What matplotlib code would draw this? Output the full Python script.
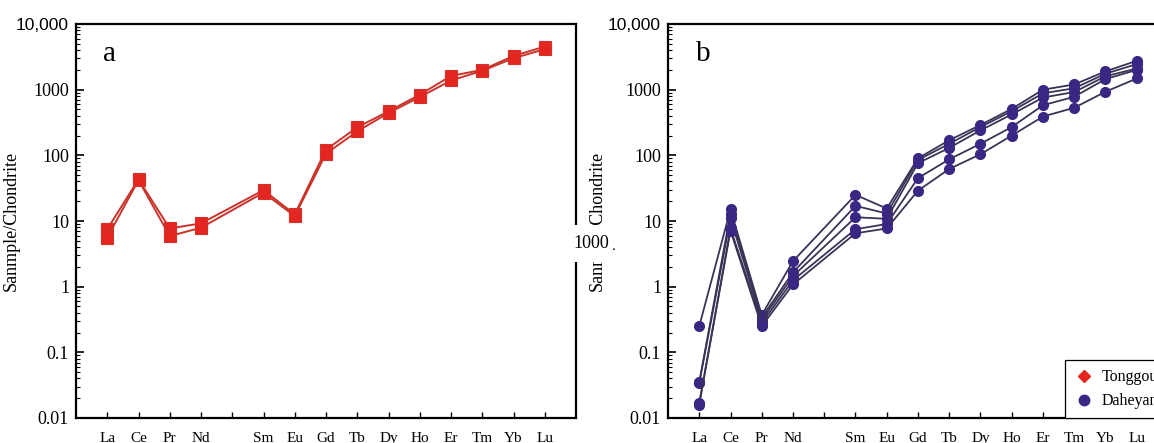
import numpy as np
import matplotlib
matplotlib.use('Agg')
import matplotlib.pyplot as plt
from matplotlib.ticker import FixedLocator, LogLocator, NullFormatter
from matplotlib.patches import Rectangle
from matplotlib.lines import Line2D

# REE order, Pm slot (position 5) is left empty
elements = ['La', 'Ce', 'Pr', 'Nd', 'Sm', 'Eu', 'Gd', 'Tb', 'Dy', 'Ho', 'Er', 'Tm', 'Yb', 'Lu']
elem_pos = [1, 2, 3, 4, 6, 7, 8, 9, 10, 11, 12, 13, 14, 15]
tick_pos = list(range(1, 16))
tick_names = ['La', 'Ce', 'Pr', 'Nd', '', 'Sm', 'Eu', 'Gd', 'Tb', 'Dy', 'Ho', 'Er', 'Tm', 'Yb', 'Lu']

# panel a: Tonggou
tonggou_1 = [7.5, 43, 7.7, 9.2, 29.5, 12.6, 122, 267, 468, 838, 1620, 2000, 3260, 4530]
tonggou_2 = [5.6, 42, 5.9, 7.9, 27, 11.9, 106, 232, 442, 771, 1380, 1940, 3010, 4130]

# panel b: Daheyan
daheyan_1 = [0.25, 15, 0.37, 2.45, 25, 15.5, 90, 170, 290, 510, 1000, 1200, 1900, 2750]
daheyan_2 = [0.035, 13, 0.34, 1.65, 17, 13, 85, 150, 270, 470, 880, 1050, 1750, 2450]
daheyan_3 = [0.034, 11, 0.31, 1.45, 11.4, 10.8, 76, 130, 240, 420, 760, 920, 1600, 2100]
daheyan_4 = [0.016, 7.7, 0.28, 1.25, 7.5, 9, 45, 87, 150, 270, 580, 780, 1450, 2000]
daheyan_5 = [0.017, 7.1, 0.25, 1.08, 6.5, 7.7, 29, 62, 104, 200, 390, 530, 930, 1480]

y_ticks = [0.01, 0.1, 1, 10, 100, 1000, 10000]
y_labels = ['0.01', '0.1', '1', '10', '100', '1000', '10,000']

W, H = 1154, 443
fig = plt.figure(figsize=(W / 100, H / 100), dpi=100)
serif = 'Liberation Serif'

red_m, red_l = '#e3261f', '#c9342b'
pur_m, pur_l = '#3a2784', '#3b3356'


def setup(ax, letter, lab_x):
    ax.set_yscale('log')
    ax.set_ylim(0.01, 10000)
    ax.set_xlim(0, 16)
    ax.yaxis.set_major_locator(FixedLocator(y_ticks))
    ax.set_yticklabels(y_labels)
    ax.yaxis.set_minor_locator(LogLocator(base=10, subs=np.arange(2, 10)))
    ax.yaxis.set_minor_formatter(NullFormatter())
    ax.set_xticks(tick_pos)
    ax.set_xticklabels(tick_names)
    ax.tick_params(axis='y', which='major', direction='in', length=6, width=1.2,
                   labelsize=13, pad=5)
    ax.tick_params(axis='y', which='minor', direction='in', length=3, width=0.8)
    ax.tick_params(axis='x', direction='in', length=4, width=1.0, labelsize=11, pad=10)
    for lab in ax.get_yticklabels() + ax.get_xticklabels():
        lab.set_fontfamily(serif)
    top = ax.get_yticklabels()[-1]
    top.set_fontfamily('Liberation Sans')
    top.set_fontsize(12.5)
    for s in ax.spines.values():
        s.set_linewidth(1.6)
    ax.set_ylabel('Sanmple/Chondrite', fontsize=13, family=serif)
    ax.yaxis.set_label_coords(lab_x, 0.5)
    ax.text(0.055, 0.925, letter, transform=ax.transAxes, fontsize=21,
            family=serif, ha='left', va='center')


# panel a
ax1 = fig.add_axes([76 / W, 25 / H, 500 / W, 394 / H])
for s in [tonggou_1, tonggou_2]:
    ax1.plot(elem_pos, s, color=red_l, lw=1.4, marker='s', ms=8,
             mfc=red_m, mec='#d8302a', mew=0.8, zorder=3)
setup(ax1, 'a', -0.112)

# panel b (runs off the right edge of the figure)
ax2 = fig.add_axes([668 / W, 25 / H, 500 / W, 394 / H])
for s in [daheyan_1, daheyan_2, daheyan_3, daheyan_4, daheyan_5]:
    ax2.plot(elem_pos, s, color=pur_l, lw=1.3, marker='o', ms=7,
             mfc=pur_m, mec=pur_m, zorder=3)
setup(ax2, 'b', -0.124)

handles = [Line2D([], [], ls='none', marker='D', ms=6, mfc='#e3261f', mec='#e3261f'),
           Line2D([], [], ls='none', marker='o', ms=7.5, mfc=pur_m, mec=pur_m)]
leg = ax2.legend(handles, ['Tonggou', 'Daheyan'], loc='lower right',
                 bbox_to_anchor=(0.997, 0.0), borderaxespad=0, fancybox=False,
                 framealpha=1, edgecolor='black', handletextpad=0.5,
                 handlelength=1.2, borderpad=0.55, labelspacing=0.5,
                 prop={'family': serif, 'size': 11.5})
leg.get_frame().set_linewidth(0.9)

# pasted-over patch between the panels
fig.patches.append(Rectangle((562 / W, (H - 262) / H), 68 / W, 37 / H,
                             transform=fig.transFigure, facecolor='white',
                             edgecolor='none', zorder=5))
fig.text(573 / W, (H - 243) / H, '1000', fontsize=13, family=serif,
         ha='left', va='center', zorder=6)
fig.text(614 / W, (H - 247) / H, '.', fontsize=11, family=serif,
         ha='center', va='center', zorder=6)

fig.savefig('out.png', dpi=100)
